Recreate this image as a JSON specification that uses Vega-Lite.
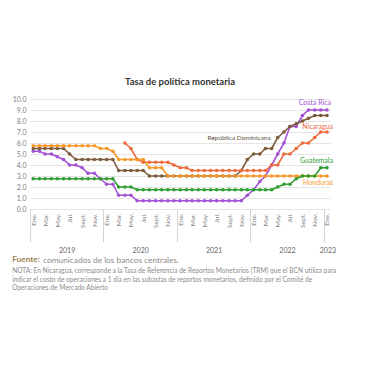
{
  "$schema": "https://vega.github.io/schema/vega-lite/v6.json",
  "padding": {"left": 12, "top": 76, "right": 5, "bottom": 5},
  "config": {"view": {"stroke": null}, "font": "Lato", "concat": {"spacing": 0}},
  "title": {"text": ["NOTA: En Nicaragua, corresponde a la Tasa de Referencia de Reportos Monetarios (TRM) que el BCN utiliza para", "indicar el costo de operaciones a 1 día en las subastas de reportos monetarios, definido por el Comité de", "Operaciones de Mercado Abierto"], "orient": "bottom", "anchor": "start", "fontSize": 6.6, "fontWeight": "normal", "color": "#8c8c8c", "lineHeight": 8.6, "offset": 4, "font": "Lato"},
  "vconcat": [{
    "title": {"text": "comunicados de los bancos centrales.", "orient": "bottom", "anchor": "start", "fontSize": 8.3, "fontWeight": "normal", "color": "#8c8c8c", "dx": 31, "offset": -7.5, "font": "Lato"},
    "vconcat": [{
      "title": {"text": "Fuente:", "orient": "bottom", "anchor": "start", "fontSize": 8.3, "fontWeight": "bold", "color": "#9a8458", "offset": 2, "font": "Lato"},
      "vconcat": [{
        "title": {"text": "Tasa de política monetaria", "fontSize": 9.5, "fontWeight": "bold", "color": "#333333", "offset": 9, "font": "Lato", "anchor": "middle"},
        "width": 300,
        "height": 110,
        "data": {"values": [
          {"pais": "Costa Rica", "fecha": "2019-01-01", "tasa": 5.25},
          {"pais": "Costa Rica", "fecha": "2019-02-01", "tasa": 5.25},
          {"pais": "Costa Rica", "fecha": "2019-03-01", "tasa": 5.0},
          {"pais": "Costa Rica", "fecha": "2019-04-01", "tasa": 5.0},
          {"pais": "Costa Rica", "fecha": "2019-05-01", "tasa": 4.75},
          {"pais": "Costa Rica", "fecha": "2019-06-01", "tasa": 4.5},
          {"pais": "Costa Rica", "fecha": "2019-07-01", "tasa": 4.0},
          {"pais": "Costa Rica", "fecha": "2019-08-01", "tasa": 4.0},
          {"pais": "Costa Rica", "fecha": "2019-09-01", "tasa": 3.75},
          {"pais": "Costa Rica", "fecha": "2019-10-01", "tasa": 3.25},
          {"pais": "Costa Rica", "fecha": "2019-11-01", "tasa": 3.25},
          {"pais": "Costa Rica", "fecha": "2019-12-01", "tasa": 2.75},
          {"pais": "Costa Rica", "fecha": "2020-01-01", "tasa": 2.25},
          {"pais": "Costa Rica", "fecha": "2020-02-01", "tasa": 2.25},
          {"pais": "Costa Rica", "fecha": "2020-03-01", "tasa": 1.25},
          {"pais": "Costa Rica", "fecha": "2020-04-01", "tasa": 1.25},
          {"pais": "Costa Rica", "fecha": "2020-05-01", "tasa": 1.25},
          {"pais": "Costa Rica", "fecha": "2020-06-01", "tasa": 0.75},
          {"pais": "Costa Rica", "fecha": "2020-07-01", "tasa": 0.75},
          {"pais": "Costa Rica", "fecha": "2020-08-01", "tasa": 0.75},
          {"pais": "Costa Rica", "fecha": "2020-09-01", "tasa": 0.75},
          {"pais": "Costa Rica", "fecha": "2020-10-01", "tasa": 0.75},
          {"pais": "Costa Rica", "fecha": "2020-11-01", "tasa": 0.75},
          {"pais": "Costa Rica", "fecha": "2020-12-01", "tasa": 0.75},
          {"pais": "Costa Rica", "fecha": "2021-01-01", "tasa": 0.75},
          {"pais": "Costa Rica", "fecha": "2021-02-01", "tasa": 0.75},
          {"pais": "Costa Rica", "fecha": "2021-03-01", "tasa": 0.75},
          {"pais": "Costa Rica", "fecha": "2021-04-01", "tasa": 0.75},
          {"pais": "Costa Rica", "fecha": "2021-05-01", "tasa": 0.75},
          {"pais": "Costa Rica", "fecha": "2021-06-01", "tasa": 0.75},
          {"pais": "Costa Rica", "fecha": "2021-07-01", "tasa": 0.75},
          {"pais": "Costa Rica", "fecha": "2021-08-01", "tasa": 0.75},
          {"pais": "Costa Rica", "fecha": "2021-09-01", "tasa": 0.75},
          {"pais": "Costa Rica", "fecha": "2021-10-01", "tasa": 0.75},
          {"pais": "Costa Rica", "fecha": "2021-11-01", "tasa": 0.75},
          {"pais": "Costa Rica", "fecha": "2021-12-01", "tasa": 1.25},
          {"pais": "Costa Rica", "fecha": "2022-01-01", "tasa": 1.75},
          {"pais": "Costa Rica", "fecha": "2022-02-01", "tasa": 2.5},
          {"pais": "Costa Rica", "fecha": "2022-03-01", "tasa": 3.0},
          {"pais": "Costa Rica", "fecha": "2022-04-01", "tasa": 4.0},
          {"pais": "Costa Rica", "fecha": "2022-05-01", "tasa": 5.0},
          {"pais": "Costa Rica", "fecha": "2022-06-01", "tasa": 6.0},
          {"pais": "Costa Rica", "fecha": "2022-07-01", "tasa": 7.5},
          {"pais": "Costa Rica", "fecha": "2022-08-01", "tasa": 7.5},
          {"pais": "Costa Rica", "fecha": "2022-09-01", "tasa": 8.5},
          {"pais": "Costa Rica", "fecha": "2022-10-01", "tasa": 9.0},
          {"pais": "Costa Rica", "fecha": "2022-11-01", "tasa": 9.0},
          {"pais": "Costa Rica", "fecha": "2022-12-01", "tasa": 9.0},
          {"pais": "Costa Rica", "fecha": "2023-01-01", "tasa": 9.0},
          {"pais": "República Dominicana", "fecha": "2019-01-01", "tasa": 5.5},
          {"pais": "República Dominicana", "fecha": "2019-02-01", "tasa": 5.5},
          {"pais": "República Dominicana", "fecha": "2019-03-01", "tasa": 5.5},
          {"pais": "República Dominicana", "fecha": "2019-04-01", "tasa": 5.5},
          {"pais": "República Dominicana", "fecha": "2019-05-01", "tasa": 5.5},
          {"pais": "República Dominicana", "fecha": "2019-06-01", "tasa": 5.5},
          {"pais": "República Dominicana", "fecha": "2019-07-01", "tasa": 5.0},
          {"pais": "República Dominicana", "fecha": "2019-08-01", "tasa": 4.5},
          {"pais": "República Dominicana", "fecha": "2019-09-01", "tasa": 4.5},
          {"pais": "República Dominicana", "fecha": "2019-10-01", "tasa": 4.5},
          {"pais": "República Dominicana", "fecha": "2019-11-01", "tasa": 4.5},
          {"pais": "República Dominicana", "fecha": "2019-12-01", "tasa": 4.5},
          {"pais": "República Dominicana", "fecha": "2020-01-01", "tasa": 4.5},
          {"pais": "República Dominicana", "fecha": "2020-02-01", "tasa": 4.5},
          {"pais": "República Dominicana", "fecha": "2020-03-01", "tasa": 3.5},
          {"pais": "República Dominicana", "fecha": "2020-04-01", "tasa": 3.5},
          {"pais": "República Dominicana", "fecha": "2020-05-01", "tasa": 3.5},
          {"pais": "República Dominicana", "fecha": "2020-06-01", "tasa": 3.5},
          {"pais": "República Dominicana", "fecha": "2020-07-01", "tasa": 3.5},
          {"pais": "República Dominicana", "fecha": "2020-08-01", "tasa": 3.0},
          {"pais": "República Dominicana", "fecha": "2020-09-01", "tasa": 3.0},
          {"pais": "República Dominicana", "fecha": "2020-10-01", "tasa": 3.0},
          {"pais": "República Dominicana", "fecha": "2020-11-01", "tasa": 3.0},
          {"pais": "República Dominicana", "fecha": "2020-12-01", "tasa": 3.0},
          {"pais": "República Dominicana", "fecha": "2021-01-01", "tasa": 3.0},
          {"pais": "República Dominicana", "fecha": "2021-02-01", "tasa": 3.0},
          {"pais": "República Dominicana", "fecha": "2021-03-01", "tasa": 3.0},
          {"pais": "República Dominicana", "fecha": "2021-04-01", "tasa": 3.0},
          {"pais": "República Dominicana", "fecha": "2021-05-01", "tasa": 3.0},
          {"pais": "República Dominicana", "fecha": "2021-06-01", "tasa": 3.0},
          {"pais": "República Dominicana", "fecha": "2021-07-01", "tasa": 3.0},
          {"pais": "República Dominicana", "fecha": "2021-08-01", "tasa": 3.0},
          {"pais": "República Dominicana", "fecha": "2021-09-01", "tasa": 3.0},
          {"pais": "República Dominicana", "fecha": "2021-10-01", "tasa": 3.0},
          {"pais": "República Dominicana", "fecha": "2021-11-01", "tasa": 3.5},
          {"pais": "República Dominicana", "fecha": "2021-12-01", "tasa": 4.5},
          {"pais": "República Dominicana", "fecha": "2022-01-01", "tasa": 5.0},
          {"pais": "República Dominicana", "fecha": "2022-02-01", "tasa": 5.0},
          {"pais": "República Dominicana", "fecha": "2022-03-01", "tasa": 5.5},
          {"pais": "República Dominicana", "fecha": "2022-04-01", "tasa": 5.5},
          {"pais": "República Dominicana", "fecha": "2022-05-01", "tasa": 6.5},
          {"pais": "República Dominicana", "fecha": "2022-06-01", "tasa": 7.0},
          {"pais": "República Dominicana", "fecha": "2022-07-01", "tasa": 7.5},
          {"pais": "República Dominicana", "fecha": "2022-08-01", "tasa": 7.75},
          {"pais": "República Dominicana", "fecha": "2022-09-01", "tasa": 8.0},
          {"pais": "República Dominicana", "fecha": "2022-10-01", "tasa": 8.25},
          {"pais": "República Dominicana", "fecha": "2022-11-01", "tasa": 8.5},
          {"pais": "República Dominicana", "fecha": "2022-12-01", "tasa": 8.5},
          {"pais": "República Dominicana", "fecha": "2023-01-01", "tasa": 8.5},
          {"pais": "Nicaragua", "fecha": "2020-04-01", "tasa": 6.0},
          {"pais": "Nicaragua", "fecha": "2020-05-01", "tasa": 5.5},
          {"pais": "Nicaragua", "fecha": "2020-06-01", "tasa": 4.5},
          {"pais": "Nicaragua", "fecha": "2020-07-01", "tasa": 4.25},
          {"pais": "Nicaragua", "fecha": "2020-08-01", "tasa": 4.25},
          {"pais": "Nicaragua", "fecha": "2020-09-01", "tasa": 4.25},
          {"pais": "Nicaragua", "fecha": "2020-10-01", "tasa": 4.25},
          {"pais": "Nicaragua", "fecha": "2020-11-01", "tasa": 4.25},
          {"pais": "Nicaragua", "fecha": "2020-12-01", "tasa": 4.0},
          {"pais": "Nicaragua", "fecha": "2021-01-01", "tasa": 3.75},
          {"pais": "Nicaragua", "fecha": "2021-02-01", "tasa": 3.75},
          {"pais": "Nicaragua", "fecha": "2021-03-01", "tasa": 3.5},
          {"pais": "Nicaragua", "fecha": "2021-04-01", "tasa": 3.5},
          {"pais": "Nicaragua", "fecha": "2021-05-01", "tasa": 3.5},
          {"pais": "Nicaragua", "fecha": "2021-06-01", "tasa": 3.5},
          {"pais": "Nicaragua", "fecha": "2021-07-01", "tasa": 3.5},
          {"pais": "Nicaragua", "fecha": "2021-08-01", "tasa": 3.5},
          {"pais": "Nicaragua", "fecha": "2021-09-01", "tasa": 3.5},
          {"pais": "Nicaragua", "fecha": "2021-10-01", "tasa": 3.5},
          {"pais": "Nicaragua", "fecha": "2021-11-01", "tasa": 3.5},
          {"pais": "Nicaragua", "fecha": "2021-12-01", "tasa": 3.5},
          {"pais": "Nicaragua", "fecha": "2022-01-01", "tasa": 3.5},
          {"pais": "Nicaragua", "fecha": "2022-02-01", "tasa": 3.5},
          {"pais": "Nicaragua", "fecha": "2022-03-01", "tasa": 3.5},
          {"pais": "Nicaragua", "fecha": "2022-04-01", "tasa": 4.0},
          {"pais": "Nicaragua", "fecha": "2022-05-01", "tasa": 4.0},
          {"pais": "Nicaragua", "fecha": "2022-06-01", "tasa": 5.0},
          {"pais": "Nicaragua", "fecha": "2022-07-01", "tasa": 5.0},
          {"pais": "Nicaragua", "fecha": "2022-08-01", "tasa": 5.5},
          {"pais": "Nicaragua", "fecha": "2022-09-01", "tasa": 6.0},
          {"pais": "Nicaragua", "fecha": "2022-10-01", "tasa": 6.0},
          {"pais": "Nicaragua", "fecha": "2022-11-01", "tasa": 6.5},
          {"pais": "Nicaragua", "fecha": "2022-12-01", "tasa": 7.0},
          {"pais": "Nicaragua", "fecha": "2023-01-01", "tasa": 7.0},
          {"pais": "Honduras", "fecha": "2019-01-01", "tasa": 5.75},
          {"pais": "Honduras", "fecha": "2019-02-01", "tasa": 5.75},
          {"pais": "Honduras", "fecha": "2019-03-01", "tasa": 5.75},
          {"pais": "Honduras", "fecha": "2019-04-01", "tasa": 5.75},
          {"pais": "Honduras", "fecha": "2019-05-01", "tasa": 5.75},
          {"pais": "Honduras", "fecha": "2019-06-01", "tasa": 5.75},
          {"pais": "Honduras", "fecha": "2019-07-01", "tasa": 5.75},
          {"pais": "Honduras", "fecha": "2019-08-01", "tasa": 5.75},
          {"pais": "Honduras", "fecha": "2019-09-01", "tasa": 5.75},
          {"pais": "Honduras", "fecha": "2019-10-01", "tasa": 5.75},
          {"pais": "Honduras", "fecha": "2019-11-01", "tasa": 5.75},
          {"pais": "Honduras", "fecha": "2019-12-01", "tasa": 5.5},
          {"pais": "Honduras", "fecha": "2020-01-01", "tasa": 5.5},
          {"pais": "Honduras", "fecha": "2020-02-01", "tasa": 5.25},
          {"pais": "Honduras", "fecha": "2020-03-01", "tasa": 4.5},
          {"pais": "Honduras", "fecha": "2020-04-01", "tasa": 4.5},
          {"pais": "Honduras", "fecha": "2020-05-01", "tasa": 4.5},
          {"pais": "Honduras", "fecha": "2020-06-01", "tasa": 4.5},
          {"pais": "Honduras", "fecha": "2020-07-01", "tasa": 4.5},
          {"pais": "Honduras", "fecha": "2020-08-01", "tasa": 3.75},
          {"pais": "Honduras", "fecha": "2020-09-01", "tasa": 3.75},
          {"pais": "Honduras", "fecha": "2020-10-01", "tasa": 3.75},
          {"pais": "Honduras", "fecha": "2020-11-01", "tasa": 3.0},
          {"pais": "Honduras", "fecha": "2020-12-01", "tasa": 3.0},
          {"pais": "Honduras", "fecha": "2021-01-01", "tasa": 3.0},
          {"pais": "Honduras", "fecha": "2021-02-01", "tasa": 3.0},
          {"pais": "Honduras", "fecha": "2021-03-01", "tasa": 3.0},
          {"pais": "Honduras", "fecha": "2021-04-01", "tasa": 3.0},
          {"pais": "Honduras", "fecha": "2021-05-01", "tasa": 3.0},
          {"pais": "Honduras", "fecha": "2021-06-01", "tasa": 3.0},
          {"pais": "Honduras", "fecha": "2021-07-01", "tasa": 3.0},
          {"pais": "Honduras", "fecha": "2021-08-01", "tasa": 3.0},
          {"pais": "Honduras", "fecha": "2021-09-01", "tasa": 3.0},
          {"pais": "Honduras", "fecha": "2021-10-01", "tasa": 3.0},
          {"pais": "Honduras", "fecha": "2021-11-01", "tasa": 3.0},
          {"pais": "Honduras", "fecha": "2021-12-01", "tasa": 3.0},
          {"pais": "Honduras", "fecha": "2022-01-01", "tasa": 3.0},
          {"pais": "Honduras", "fecha": "2022-02-01", "tasa": 3.0},
          {"pais": "Honduras", "fecha": "2022-03-01", "tasa": 3.0},
          {"pais": "Honduras", "fecha": "2022-04-01", "tasa": 3.0},
          {"pais": "Honduras", "fecha": "2022-05-01", "tasa": 3.0},
          {"pais": "Honduras", "fecha": "2022-06-01", "tasa": 3.0},
          {"pais": "Honduras", "fecha": "2022-07-01", "tasa": 3.0},
          {"pais": "Honduras", "fecha": "2022-08-01", "tasa": 3.0},
          {"pais": "Honduras", "fecha": "2022-09-01", "tasa": 3.0},
          {"pais": "Honduras", "fecha": "2022-10-01", "tasa": 3.0},
          {"pais": "Honduras", "fecha": "2022-11-01", "tasa": 3.0},
          {"pais": "Honduras", "fecha": "2022-12-01", "tasa": 3.0},
          {"pais": "Honduras", "fecha": "2023-01-01", "tasa": 3.0},
          {"pais": "Guatemala", "fecha": "2019-01-01", "tasa": 2.75},
          {"pais": "Guatemala", "fecha": "2019-02-01", "tasa": 2.75},
          {"pais": "Guatemala", "fecha": "2019-03-01", "tasa": 2.75},
          {"pais": "Guatemala", "fecha": "2019-04-01", "tasa": 2.75},
          {"pais": "Guatemala", "fecha": "2019-05-01", "tasa": 2.75},
          {"pais": "Guatemala", "fecha": "2019-06-01", "tasa": 2.75},
          {"pais": "Guatemala", "fecha": "2019-07-01", "tasa": 2.75},
          {"pais": "Guatemala", "fecha": "2019-08-01", "tasa": 2.75},
          {"pais": "Guatemala", "fecha": "2019-09-01", "tasa": 2.75},
          {"pais": "Guatemala", "fecha": "2019-10-01", "tasa": 2.75},
          {"pais": "Guatemala", "fecha": "2019-11-01", "tasa": 2.75},
          {"pais": "Guatemala", "fecha": "2019-12-01", "tasa": 2.75},
          {"pais": "Guatemala", "fecha": "2020-01-01", "tasa": 2.75},
          {"pais": "Guatemala", "fecha": "2020-02-01", "tasa": 2.75},
          {"pais": "Guatemala", "fecha": "2020-03-01", "tasa": 2.0},
          {"pais": "Guatemala", "fecha": "2020-04-01", "tasa": 2.0},
          {"pais": "Guatemala", "fecha": "2020-05-01", "tasa": 2.0},
          {"pais": "Guatemala", "fecha": "2020-06-01", "tasa": 1.75},
          {"pais": "Guatemala", "fecha": "2020-07-01", "tasa": 1.75},
          {"pais": "Guatemala", "fecha": "2020-08-01", "tasa": 1.75},
          {"pais": "Guatemala", "fecha": "2020-09-01", "tasa": 1.75},
          {"pais": "Guatemala", "fecha": "2020-10-01", "tasa": 1.75},
          {"pais": "Guatemala", "fecha": "2020-11-01", "tasa": 1.75},
          {"pais": "Guatemala", "fecha": "2020-12-01", "tasa": 1.75},
          {"pais": "Guatemala", "fecha": "2021-01-01", "tasa": 1.75},
          {"pais": "Guatemala", "fecha": "2021-02-01", "tasa": 1.75},
          {"pais": "Guatemala", "fecha": "2021-03-01", "tasa": 1.75},
          {"pais": "Guatemala", "fecha": "2021-04-01", "tasa": 1.75},
          {"pais": "Guatemala", "fecha": "2021-05-01", "tasa": 1.75},
          {"pais": "Guatemala", "fecha": "2021-06-01", "tasa": 1.75},
          {"pais": "Guatemala", "fecha": "2021-07-01", "tasa": 1.75},
          {"pais": "Guatemala", "fecha": "2021-08-01", "tasa": 1.75},
          {"pais": "Guatemala", "fecha": "2021-09-01", "tasa": 1.75},
          {"pais": "Guatemala", "fecha": "2021-10-01", "tasa": 1.75},
          {"pais": "Guatemala", "fecha": "2021-11-01", "tasa": 1.75},
          {"pais": "Guatemala", "fecha": "2021-12-01", "tasa": 1.75},
          {"pais": "Guatemala", "fecha": "2022-01-01", "tasa": 1.75},
          {"pais": "Guatemala", "fecha": "2022-02-01", "tasa": 1.75},
          {"pais": "Guatemala", "fecha": "2022-03-01", "tasa": 1.75},
          {"pais": "Guatemala", "fecha": "2022-04-01", "tasa": 1.75},
          {"pais": "Guatemala", "fecha": "2022-05-01", "tasa": 2.0},
          {"pais": "Guatemala", "fecha": "2022-06-01", "tasa": 2.25},
          {"pais": "Guatemala", "fecha": "2022-07-01", "tasa": 2.25},
          {"pais": "Guatemala", "fecha": "2022-08-01", "tasa": 2.75},
          {"pais": "Guatemala", "fecha": "2022-09-01", "tasa": 3.0},
          {"pais": "Guatemala", "fecha": "2022-10-01", "tasa": 3.0},
          {"pais": "Guatemala", "fecha": "2022-11-01", "tasa": 3.0},
          {"pais": "Guatemala", "fecha": "2022-12-01", "tasa": 3.75},
          {"pais": "Guatemala", "fecha": "2023-01-01", "tasa": 3.75}
        ]},
        "encoding": {
          "y": {"field": "tasa", "type": "quantitative",
            "scale": {"domain": [0, 10], "nice": false},
            "axis": {"title": null, "values": [0, 1, 2, 3, 4, 5, 6, 7, 8, 9, 10], "format": ".1f", "domain": false, "ticks": false, "grid": true, "gridColor": "#e4e4e4", "gridWidth": 1, "labelFontSize": 7, "labelColor": "#808080", "labelPadding": 4, "labelOverlap": false, "labelFlush": false}}
        },
        "resolve": {"axis": {"x": "independent"}},
        "layer": [
          {
            "mark": {"type": "line", "strokeWidth": 1.6},
            "encoding": {
              "x": {"field": "fecha", "type": "temporal",
                "scale": {"type": "utc", "domain": [{"year": 2018, "month": 12, "date": 16, "utc": true}, {"year": 2023, "month": 1, "date": 16, "utc": true}]},
                "axis": {"orient": "bottom", "title": null, "grid": false, "domain": false, "labels": false, "ticks": true, "tickSize": 33, "tickColor": "#d4d4d4", "tickWidth": 1,
                  "values": [{"year": 2018, "month": 12, "date": 17, "utc": true}, {"year": 2019, "month": 12, "date": 16, "utc": true}, {"year": 2020, "month": 12, "date": 16, "utc": true}, {"year": 2021, "month": 12, "date": 16, "utc": true}, {"year": 2022, "month": 12, "date": 16, "utc": true}]}},
              "color": {"field": "pais", "type": "nominal", "legend": null,
                "scale": {"domain": ["Honduras", "Guatemala", "Nicaragua", "República Dominicana", "Costa Rica"], "range": ["#f7982a", "#2f9e30", "#ec6a3c", "#7a5b3c", "#a352d6"]}}
            }
          },
          {
            "mark": {"type": "point", "filled": true, "size": 13, "opacity": 1},
            "encoding": {
              "x": {"field": "fecha", "type": "temporal",
                "axis": {"orient": "bottom", "title": null, "grid": false, "domain": false, "ticks": false, "labelAngle": -90, "labelFontSize": 6.5, "labelColor": "#808080", "labelPadding": 4, "labelOverlap": false, "labelFlush": false,
                  "values": [
                    {"year": 2019, "month": 1, "date": 1, "utc": true}, {"year": 2019, "month": 3, "date": 1, "utc": true}, {"year": 2019, "month": 5, "date": 1, "utc": true}, {"year": 2019, "month": 7, "date": 1, "utc": true}, {"year": 2019, "month": 9, "date": 1, "utc": true}, {"year": 2019, "month": 11, "date": 1, "utc": true},
                    {"year": 2020, "month": 1, "date": 1, "utc": true}, {"year": 2020, "month": 3, "date": 1, "utc": true}, {"year": 2020, "month": 5, "date": 1, "utc": true}, {"year": 2020, "month": 7, "date": 1, "utc": true}, {"year": 2020, "month": 9, "date": 1, "utc": true}, {"year": 2020, "month": 11, "date": 1, "utc": true},
                    {"year": 2021, "month": 1, "date": 1, "utc": true}, {"year": 2021, "month": 3, "date": 1, "utc": true}, {"year": 2021, "month": 5, "date": 1, "utc": true}, {"year": 2021, "month": 7, "date": 1, "utc": true}, {"year": 2021, "month": 9, "date": 1, "utc": true}, {"year": 2021, "month": 11, "date": 1, "utc": true},
                    {"year": 2022, "month": 1, "date": 1, "utc": true}, {"year": 2022, "month": 3, "date": 1, "utc": true}, {"year": 2022, "month": 5, "date": 1, "utc": true}, {"year": 2022, "month": 7, "date": 1, "utc": true}, {"year": 2022, "month": 9, "date": 1, "utc": true}, {"year": 2022, "month": 11, "date": 1, "utc": true},
                    {"year": 2023, "month": 1, "date": 1, "utc": true}
                  ],
                  "labelExpr": "['Ene.','','Mar.','','May.','','Jul.','','Sept.','','Nov.',''][utcmonth(datum.value)]"}},
              "color": {"field": "pais", "type": "nominal", "legend": null}
            }
          },
          {
            "transform": [{"filter": "datum.pais == 'Costa Rica' && utcyear(datum.fecha) == 2023"}],
            "mark": {"type": "text", "align": "right", "baseline": "middle", "dx": 4, "dy": -7, "fontSize": 7, "color": "#a352d6"},
            "encoding": {
              "x": {"field": "fecha", "type": "temporal",
                "axis": {"orient": "bottom", "title": null, "grid": false, "domain": false, "ticks": false, "offset": 35, "labelPadding": 2, "labelFontSize": 7, "labelColor": "#666666", "labelAngle": 0, "labelFlush": false, "labelOverlap": false,
                  "values": [{"year": 2019, "month": 6, "date": 16, "utc": true}, {"year": 2020, "month": 6, "date": 16, "utc": true}, {"year": 2021, "month": 6, "date": 16, "utc": true}, {"year": 2022, "month": 6, "date": 16, "utc": true}, {"year": 2023, "month": 1, "date": 3, "utc": true}],
                  "labelExpr": "utcFormat(datum.value, '%Y')"}},
              "text": {"field": "pais"}
            }
          },
          {
            "transform": [{"filter": "datum.pais == 'Nicaragua' && utcyear(datum.fecha) == 2023"}],
            "mark": {"type": "text", "align": "right", "baseline": "middle", "dx": 6, "dy": -5, "fontSize": 7, "color": "#ec6a3c"},
            "encoding": {
              "x": {"field": "fecha", "type": "temporal", "axis": null},
              "text": {"field": "pais"}
            }
          },
          {
            "transform": [{"filter": "datum.pais == 'Guatemala' && utcyear(datum.fecha) == 2023"}],
            "mark": {"type": "text", "align": "right", "baseline": "middle", "dx": 6, "dy": -7, "fontSize": 7, "color": "#2f9e30"},
            "encoding": {
              "x": {"field": "fecha", "type": "temporal", "axis": null},
              "text": {"field": "pais"}
            }
          },
          {
            "transform": [{"filter": "datum.pais == 'Honduras' && utcyear(datum.fecha) == 2023"}],
            "mark": {"type": "text", "align": "right", "baseline": "middle", "dx": 6, "dy": 7, "fontSize": 7, "color": "#f7982a"},
            "encoding": {
              "x": {"field": "fecha", "type": "temporal", "axis": null},
              "text": {"field": "pais"}
            }
          },
          {
            "transform": [{"filter": "datum.pais == 'República Dominicana' && utcyear(datum.fecha) == 2022 && utcmonth(datum.fecha) == 4"}],
            "mark": {"type": "text", "align": "right", "baseline": "middle", "dx": -7, "dy": 0, "fontSize": 6.5, "color": "#5e5242"},
            "encoding": {
              "x": {"field": "fecha", "type": "temporal", "axis": null},
              "text": {"field": "pais"}
            }
          }
        ]
      }]
    }]
  }]
}
